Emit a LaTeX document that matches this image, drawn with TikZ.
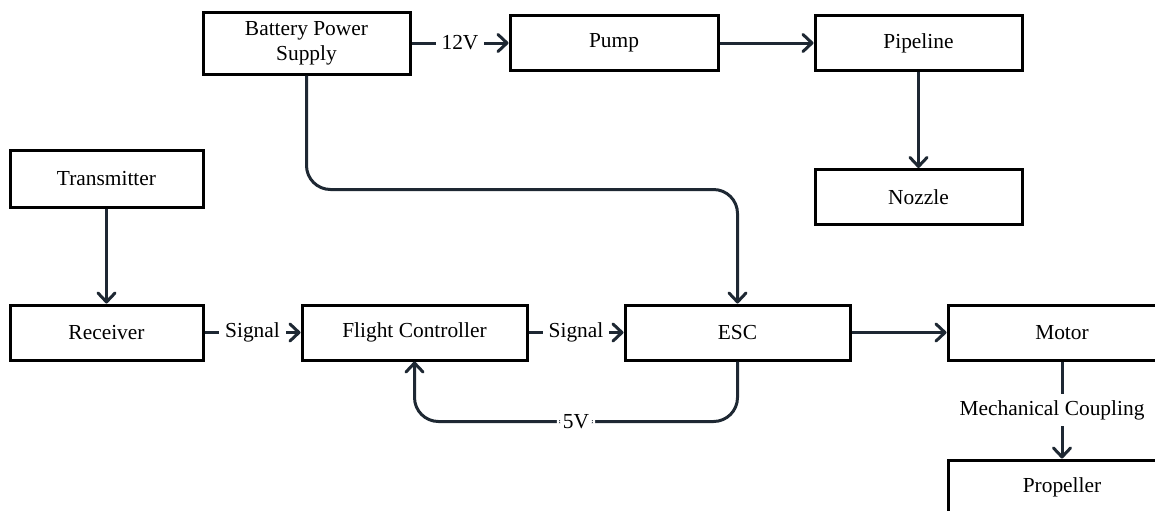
\documentclass[tikz,border=0pt]{standalone}
\usepackage{fontspec}
\setmainfont{Liberation Serif}
\usepackage{tikz}
\usetikzlibrary{arrows.meta,positioning,calc}
\usepackage{xcolor}
\definecolor{wire}{HTML}{1E2833}

\begin{document}
\begin{tikzpicture}[
  x=0.5pt, y=-0.5pt,
  box/.style={rectangle, draw=black, line width=1.5pt, fill=white,
    minimum width=103.5pt, minimum height=27.5pt, align=center, inner sep=2pt,
    font=\fontsize{10.7}{12.5}\selectfont},
  arrow/.style={-{Straight Barb[length=4.5pt, width=8.5pt, line cap=round, line join=round]},
    line width=1.5pt, color=wire},
  lbl/.style={fill=white, inner sep=3pt, text=black,
    font=\fontsize{10.7}{12.5}\selectfont}
]
\useasboundingbox (0,0) rectangle (1155,510);
\clip (0,0) rectangle (1155,510);

% Power and spraying chain
\node[box, minimum height=31pt] (bat) at (306.5,43) {Battery Power\\Supply};
\node[box, minimum width=104pt, right=48.5pt of bat] (pump) {Pump};
\node[box, right=47pt of pump] (pipe) {Pipeline};
\node[box, below=48pt of pipe] (nozzle) {Nozzle};

% Control chain
\node[box, minimum width=96.5pt, minimum height=28.5pt] (trans) at (106.5,178.5) {Transmitter};
\node[box, minimum width=96.5pt, below=47.5pt of trans] (recv) {Receiver};
\node[box, minimum width=112.5pt, right=48pt of recv] (fc) {Flight Controller};
\node[box, minimum width=112.5pt, right=47.5pt of fc] (esc) {ESC};
\node[box, minimum width=114pt, right=47.5pt of esc] (motor) {Motor};
\node[box, minimum width=114pt, below=48.5pt of motor] (prop) {Propeller};

% Spraying connections
\draw[arrow] (bat) -- node[lbl] {12V} (pump);
\draw[arrow] (pump) -- (pipe);
\draw[arrow] (pipe) -- (nozzle);

% Power feed to ESC
\draw[arrow, rounded corners=12pt] (bat.south)
  |- ($(bat.south)!.5!(esc.north)$) -| (esc.north);

% Signal connections
\draw[arrow] (trans) -- (recv);
\draw[arrow] (recv) -- node[lbl] {Signal} (fc);
\draw[arrow] (fc) -- node[lbl] {Signal} (esc);
\draw[arrow] (esc) -- (motor);

% 5V return to flight controller
\draw[arrow, rounded corners=12pt] (esc.south) -- ++(0,60)
  -| node[lbl, pos=0.25] {5V} (fc.south);

% Drive
\draw[arrow] (motor) -- node[lbl, xshift=-5pt] {Mechanical Coupling} (prop);

\end{tikzpicture}
\end{document}
